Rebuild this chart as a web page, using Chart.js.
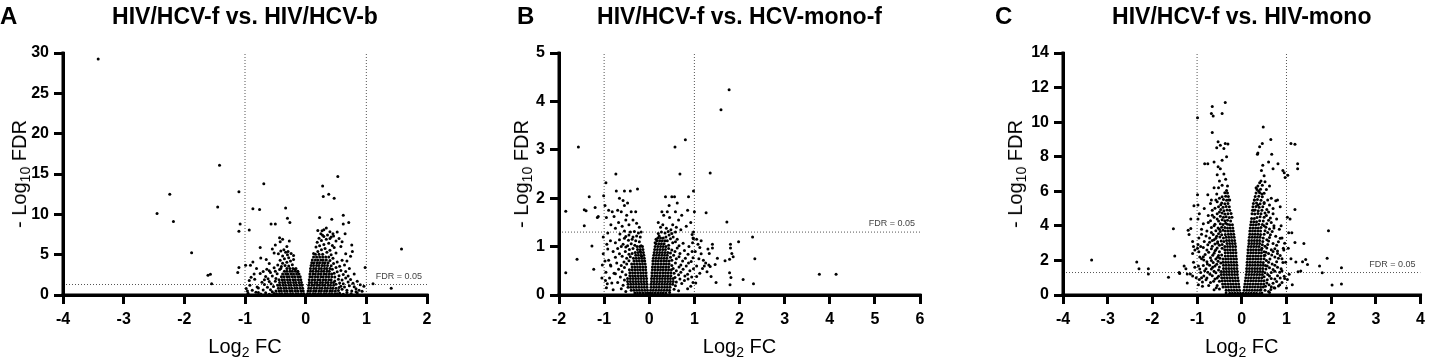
<!DOCTYPE html>
<html>
<head>
<meta charset="utf-8">
<title>Volcano plots</title>
<script src="https://cdn.jsdelivr.net/npm/chart.js@4.4.1/dist/chart.umd.min.js"></script>
<style>
  html, body { margin: 0; padding: 0; background: #fff; }
  body { width: 1431px; height: 360px; position: relative; overflow: hidden;
         font-family: "Liberation Sans", Arial, Helvetica, sans-serif; color: #000; }
  .panel { position: absolute; top: 0; width: 481px; height: 360px; }
  .panel canvas { position: absolute; left: 0; top: 0; }
  .txt { position: absolute; white-space: nowrap; }
  .letter { font-size: 24px; line-height: 24px; font-weight: bold; }
  .title { font-size: 23px; line-height: 23px; font-weight: bold; transform: translateX(-50%); }
  .axt { font-size: 20px; line-height: 20px; }
  .axt sub { font-size: 14px; line-height: 0; vertical-align: -4px; }
  .xt { transform: translateX(-50%); }
  .yt { transform: translate(-50%, -50%) rotate(-90deg); }
  .fdr { font-size: 9px; line-height: 9px; color: #444; }
</style>
</head>
<body>
<div class="panel" id="panelA" style="left:0"><canvas id="chartA" width="440" height="360"></canvas></div>
<div class="panel" id="panelB" style="left:480px"><canvas id="chartB" width="453" height="360"></canvas></div>
<div class="panel" id="panelC" style="left:950px"><canvas id="chartC" width="481" height="360"></canvas></div>
<script>
// ---- data (log2 FC on x, -log10 FDR on y) ----
const titles = ['HIV/HCV-f vs. HIV/HCV-b', 'HIV/HCV-f vs. HCV-mono-f', 'HIV/HCV-f vs. HIV-mono'];
const letters = ['A', 'B', 'C'];
const fcCutoffs = [-1, 1];
const fdrCutoff = 1.3;
const fdrLabel = 'FDR = 0.05';

// solid black core of each cloud, sampled row by row: [-log10 FDR, [log2 FC, ...]]
const coreA = [
  [0.15, [-0.48,-0.43,-0.39,-0.34,-0.3,-0.25,-0.21,-0.16,-0.12,-0.07,-0.03,0.03,0.07,0.12,0.16,0.21,0.25,0.3,0.34,0.39,0.43,0.48,0.52]],
  [0.5, [-0.49,-0.44,-0.4,-0.35,-0.31,-0.26,-0.22,-0.17,-0.13,-0.08,-0.04,0.04,0.08,0.13,0.17,0.22,0.26,0.31,0.35,0.4,0.44,0.49]],
  [0.85, [-0.45,-0.41,-0.36,-0.32,-0.27,-0.23,-0.18,-0.14,-0.09,-0.05,0.05,0.09,0.14,0.18,0.23,0.27,0.32,0.36,0.41,0.45,0.5]],
  [1.2, [-0.46,-0.42,-0.37,-0.33,-0.28,-0.24,-0.19,-0.15,-0.1,-0.06,0.05,0.1,0.14,0.19,0.23,0.28,0.32,0.37,0.41,0.46]],
  [1.55, [-0.43,-0.38,-0.34,-0.29,-0.25,-0.2,-0.16,-0.11,-0.07,0.06,0.1,0.15,0.19,0.24,0.28,0.33,0.37,0.42,0.46]],
  [1.9, [-0.44,-0.39,-0.35,-0.3,-0.26,-0.21,-0.17,-0.12,-0.08,0.06,0.11,0.15,0.2,0.24,0.29,0.33,0.38,0.42]],
  [2.25, [-0.4,-0.36,-0.31,-0.27,-0.22,-0.18,-0.13,-0.09,0.07,0.11,0.16,0.2,0.25,0.29,0.34,0.38,0.43]],
  [2.6, [-0.38,-0.33,-0.29,-0.24,-0.2,-0.15,-0.11,0.07,0.12,0.16,0.21,0.25,0.3,0.34,0.39,0.43]],
  [2.95, [-0.35,-0.31,-0.26,-0.22,-0.17,-0.13,0.08,0.12,0.17,0.21,0.26,0.3,0.35,0.39]],
  [3.3, [-0.31,-0.26,-0.21,-0.16,0.08,0.13,0.17,0.22,0.26,0.31,0.35,0.4]],
  [3.65, [0.09,0.13,0.18,0.22,0.27,0.31,0.36]],
  [4.0, [0.1,0.14,0.19,0.23,0.28,0.32,0.37]],
  [4.35, [0.11,0.16,0.2,0.25,0.29,0.34]],
  [4.7, [0.13,0.18,0.23,0.28,0.33]],
  [5.05, [0.16,0.22,0.28]]
];
// scattered points around the cores: [log2 FC, -log10 FDR]
const spreadA = [
  [-3.42,29.25],[-1.42,16.1],[-2.24,12.5],[-2.45,10.1],[-2.18,9.1],[-1.88,5.25],[-1.45,10.9],[-1.1,12.8],[-1.08,8.8],[-1.1,7.9],
  [-1.61,2.44],[-1.57,2.57],[-1.55,1.4],[-1.1,3.4],[-1.12,2.8],[-0.99,3.7],[-0.98,0.8],[-0.69,13.8],[-0.87,10.7],[-0.76,10.6],
  [-0.93,8.05],[-0.33,10.8],[-0.3,9.5],[-0.26,9.0],[-0.57,8.8],[-0.5,8.8],[-0.91,3.7],[-0.87,4.1],[-0.81,3.3],[-0.75,5.9],
  [-0.74,4.6],[-0.65,4.4],[-0.6,3.9],[-0.55,5.7],[-0.52,5.2],[-0.43,7.1],[-0.42,6.6],[-0.27,6.7],[-0.36,5.6],[-0.31,6.0],
  [-0.93,1.8],[-0.85,2.6],[-0.96,0.5],[-0.7,2.9],[-0.8,1.0],[-0.9,2.2],[-0.78,0.3],[-0.68,1.9],[-0.58,2.8],[-0.64,3.2],
  [-0.45,5.1],[-0.2,4.9],[-0.5,6.2],[-0.38,6.9],[-0.29,5.4],
  [-0.95,0.22],[-0.82,0.35],[-0.74,0.12],[-0.66,0.28],[-0.6,0.09],[-0.55,0.41],[-0.52,0.18],[-0.58,0.66],[-0.63,0.95],[-0.7,0.62],
  [-0.88,0.58],[-0.78,0.88],[-0.53,1.05],[-0.57,1.38],[-0.68,1.3],[-0.92,1.22],[-0.5,1.72],[-0.6,1.66],[-0.72,1.58],[-0.84,1.95],
  [-0.49,2.05],[-0.62,2.02],[-0.55,2.35],[-0.66,2.28],[-0.47,2.62],[-0.75,2.66],[-0.5,2.95],[-0.6,3.02],[-0.43,3.15],[-0.52,3.38],
  [-0.4,3.52],[-0.46,3.72],[-0.34,3.65],[-0.28,3.58],[-0.22,3.75],[-0.38,3.95],[-0.31,4.05],[-0.25,4.2],[-0.42,4.3],[-0.35,4.5],
  [-0.28,4.62],[-0.2,4.4],[-0.38,4.85],[-0.3,5.0],[-0.24,5.15],[-0.33,5.3],[-0.41,5.45],[-0.18,3.2],[-0.13,2.9],[-0.41,3.3],
  [0.53,14.7],[0.28,13.5],[0.29,12.2],[0.38,12.5],[0.47,12.0],[0.23,9.6],[0.43,9.4],[0.62,9.9],[0.71,9.0],[0.62,8.8],
  [0.76,6.2],[0.77,5.4],[0.74,4.8],[0.45,7.6],[0.42,7.2],[0.98,3.4],[1.11,1.4],[1.41,0.83],[1.58,5.7],[0.88,0.6],
  [0.93,0.45],[0.83,0.4],[0.58,6.0],[0.65,7.6],[0.52,7.8],[0.34,8.3],[0.68,4.2],[0.8,2.6],[0.72,3.3],[0.85,1.7],
  [0.66,5.1],[0.96,1.1],[0.3,8.1],[0.2,8.0],[0.55,7.0],[0.6,6.6],[0.28,7.4],
  [0.56,0.22],[0.62,0.1],[0.68,0.3],[0.75,0.15],[0.85,0.25],[0.54,0.55],[0.6,0.72],[0.68,0.6],[0.76,0.5],[0.83,0.78],
  [0.55,0.92],[0.58,1.1],[0.64,0.98],[0.72,1.15],[0.8,1.02],[0.9,1.28],[0.5,1.32],[0.56,1.5],[0.62,1.4],[0.7,1.62],
  [0.78,1.45],[0.48,1.75],[0.54,1.95],[0.6,1.85],[0.66,2.1],[0.74,1.92],[0.48,2.22],[0.55,2.4],[0.62,2.55],[0.7,2.35],
  [0.47,2.7],[0.52,2.88],[0.58,3.05],[0.66,2.9],[0.44,3.18],[0.5,3.4],[0.56,3.55],[0.64,3.72],[0.42,3.62],[0.46,3.92],
  [0.52,4.1],[0.6,4.3],[0.4,4.28],[0.45,4.55],[0.38,4.7],[0.42,5.0],[0.5,5.2],[0.35,5.3],[0.13,5.15],[0.2,5.4],
  [0.26,5.6],[0.32,5.75],[0.4,5.55],[0.47,5.9],[0.17,5.95],[0.23,6.1],[0.3,6.25],[0.38,6.4],[0.44,6.15],[0.19,6.55],
  [0.26,6.75],[0.34,6.9],[0.5,6.7],[0.22,7.05],[0.3,7.25],[0.4,7.0],[0.25,7.6],[0.36,7.45],[0.46,7.3],[0.27,7.95],[0.4,7.85]
];

const coreB = [
  [0.04, [-0.32,-0.26,-0.2,-0.14,-0.08,-0.03,0.02,0.07,0.13,0.19,0.25,0.31,0.37]],
  [0.1, [-0.4,-0.34,-0.28,-0.22,-0.16,-0.1,-0.04,0.03,0.09,0.15,0.21,0.27,0.33,0.39,0.45]],
  [0.16, [-0.47,-0.41,-0.35,-0.29,-0.23,-0.17,-0.11,-0.05,0.04,0.1,0.16,0.22,0.28,0.34,0.4,0.46]],
  [0.22, [-0.47,-0.41,-0.35,-0.29,-0.23,-0.17,-0.11,-0.05,0.04,0.1,0.16,0.22,0.28,0.34,0.4,0.46,0.52]],
  [0.28, [-0.48,-0.42,-0.36,-0.3,-0.24,-0.18,-0.12,-0.06,0.05,0.11,0.17,0.23,0.29,0.35,0.41,0.47,0.53]],
  [0.34, [-0.48,-0.42,-0.36,-0.3,-0.24,-0.18,-0.12,-0.06,0.05,0.11,0.17,0.23,0.29,0.35,0.41,0.47,0.53]],
  [0.4, [-0.43,-0.37,-0.31,-0.25,-0.19,-0.13,-0.07,0.06,0.12,0.18,0.24,0.3,0.36,0.42,0.48]],
  [0.46, [-0.43,-0.37,-0.31,-0.25,-0.19,-0.13,-0.07,0.06,0.12,0.18,0.24,0.3,0.36,0.42,0.48]],
  [0.52, [-0.44,-0.38,-0.32,-0.26,-0.2,-0.14,-0.08,0.07,0.13,0.19,0.25,0.31,0.37,0.43,0.49]],
  [0.58, [-0.38,-0.32,-0.26,-0.2,-0.14,-0.08,0.07,0.13,0.19,0.25,0.31,0.37,0.43]],
  [0.64, [-0.39,-0.33,-0.27,-0.21,-0.15,-0.09,0.08,0.14,0.2,0.26,0.32,0.38,0.44]],
  [0.7, [-0.34,-0.28,-0.22,-0.16,-0.1,0.08,0.14,0.2,0.26,0.32,0.38,0.44]],
  [0.76, [-0.35,-0.29,-0.23,-0.17,-0.11,0.09,0.15,0.21,0.27,0.33,0.39]],
  [0.82, [-0.3,-0.24,-0.18,-0.12,0.1,0.16,0.22,0.28,0.34,0.4]],
  [0.88, [-0.31,-0.25,-0.19,-0.13,0.11,0.17,0.23,0.29,0.35,0.41]],
  [0.94, [-0.26,-0.2,-0.14,0.12,0.18,0.24,0.3,0.36]],
  [1.0, [-0.27,-0.21,-0.15,0.13,0.19,0.25,0.31,0.37]],
  [1.06, [0.15,0.21,0.27,0.33]],
  [1.12, [0.17,0.23,0.29,0.35]],
  [1.18, [0.19,0.25,0.31]]
];
const spreadB = [
  [-0.96,2.32],[-0.74,2.5],[-0.73,2.15],[-0.55,2.15],[-0.42,2.15],[-0.26,2.19],[-1.01,2.05],[-0.98,1.85],[-0.9,1.75],[-0.82,1.72],
  [-0.78,1.62],[-0.7,1.75],[-0.68,1.5],[-0.62,1.72],[-0.58,1.95],[-0.55,1.85],[-0.5,1.65],[-0.45,1.45],[-0.4,1.72],[-0.36,1.55],
  [-0.3,1.72],[-0.28,1.48],[-0.22,1.4],[-0.6,1.42],[-0.85,1.45],[-0.92,1.28],[-0.75,1.38],[-0.52,1.55],[-0.18,1.3],[-0.95,1.6],
  [-0.66,2.0],[-0.48,1.9],
  [-1.57,3.06],[-1.85,1.73],[-1.33,2.03],[-1.44,1.76],[-1.4,1.74],[-1.44,1.43],[-1.2,1.81],[-1.15,1.6],[-1.13,1.62],[-1.27,1.01],
  [-1.23,0.53],[-1.6,0.74],[-1.85,0.46],[-1.02,0.85],[-1.04,0.62],[-1.05,0.35],[-1.02,1.2],
  [-0.98,0.7],[-0.97,0.3],[-0.92,0.95],[-0.86,1.12],[-0.95,0.15],[-0.83,0.25],[-0.86,0.62],[-0.94,1.05],[-0.8,0.9],[-0.78,0.45],
  [-0.52,0.07],[-0.62,0.13],[-0.8,0.11],[-0.58,0.2],[-0.7,0.26],[-0.93,0.23],[-0.55,0.31],[-0.64,0.37],[-0.88,0.35],[-0.52,0.42],
  [-0.6,0.48],[-0.75,0.44],[-0.96,0.47],[-0.68,0.53],[-0.55,0.57],[-0.5,0.64],[-0.62,0.61],[-0.85,0.6],[-0.45,0.71],[-0.56,0.68],
  [-0.72,0.66],[-0.9,0.72],[-0.42,0.79],[-0.5,0.76],[-0.6,0.8],[-0.75,0.78],[-0.38,0.86],[-0.45,0.84],[-0.53,0.9],[-0.66,0.85],
  [-0.36,0.96],[-0.44,0.94],[-0.52,0.99],[-0.7,0.96],[-0.32,1.03],[-0.4,1.06],[-0.48,1.02],[-0.58,1.05],[-0.62,1.0],[-0.75,1.08],
  [-0.22,1.1],[-0.3,1.12],[-0.38,1.15],[-0.46,1.13],[-0.55,1.17],[-0.66,1.14],[-0.2,1.2],[-0.28,1.22],[-0.36,1.2],[-0.45,1.24],
  [-0.52,1.21],[-0.65,1.26],[-0.24,1.28],[-0.33,1.31],[-0.42,1.3],[-0.55,1.32],[-0.18,1.02],[-0.2,0.9],[-0.17,0.8],[-0.15,0.7],
  [0.57,3.06],[0.8,3.21],[0.68,2.5],[0.36,2.03],[0.5,2.03],[0.56,2.03],[0.87,2.03],[0.98,2.15],[1.0,1.72],[0.28,1.72],
  [0.32,1.65],[0.4,1.72],[0.45,1.6],[0.52,1.45],[0.58,1.72],[0.65,1.55],[0.72,1.65],[0.3,1.45],[0.25,1.4],[0.38,1.38],
  [0.48,1.35],[0.6,1.4],[0.85,1.75],[0.92,1.5],[0.95,1.25],[0.98,1.3],[0.97,1.18],[0.2,1.5],[0.7,1.35],[0.82,1.42],
  [0.44,1.85],[0.62,1.9],
  [1.26,1.7],[1.35,2.52],[1.59,3.83],[1.77,4.24],[1.72,1.51],[2.29,1.2],[1.98,1.1],[2.34,0.75],[1.8,1.05],[1.8,0.97],
  [1.83,0.86],[1.86,0.79],[1.78,0.74],[1.68,0.71],[1.51,0.76],[1.4,1.05],[1.4,0.97],[1.3,0.95],[1.33,0.86],[3.77,0.43],
  [4.14,0.43],[1.78,0.46],[1.81,0.36],[1.79,0.21],[2.08,0.32],[2.31,0.23],[1.48,0.26],[1.37,0.38],[1.46,0.63],[1.35,0.59],
  [1.2,0.72],[1.25,0.66],[1.32,0.62],[1.05,1.15],[1.08,1.05],[1.12,0.98],[1.15,0.85],[1.1,0.75],[1.05,0.6],[1.18,0.55],
  [1.22,0.6],[1.28,0.48],[1.12,0.45],[1.05,0.38],[1.02,0.9],[1.15,1.12],[1.03,0.25],
  [0.45,0.05],[0.55,0.12],[0.65,0.09],[0.85,0.13],[0.58,0.19],[0.72,0.24],[0.92,0.18],[0.6,0.27],[0.68,0.33],[0.78,0.3],
  [0.97,0.26],[0.57,0.36],[0.65,0.42],[0.79,0.39],[0.86,0.33],[0.94,0.37],[0.55,0.45],[0.6,0.5],[0.7,0.47],[0.85,0.43],
  [0.53,0.55],[0.66,0.58],[0.75,0.53],[0.9,0.5],[0.98,0.54],[0.5,0.61],[0.58,0.66],[0.7,0.62],[0.82,0.6],[0.87,0.66],
  [0.5,0.72],[0.6,0.75],[0.74,0.7],[0.93,0.69],[0.47,0.78],[0.54,0.82],[0.66,0.79],[0.8,0.76],[0.97,0.77],[0.47,0.87],
  [0.57,0.9],[0.68,0.86],[0.86,0.84],[0.43,0.96],[0.5,0.93],[0.62,0.97],[0.78,0.92],[0.95,0.9],[0.43,1.03],[0.52,1.08],
  [0.66,1.02],[0.88,1.0],[0.4,1.12],[0.47,1.16],[0.58,1.1],[0.75,1.07],[0.96,1.08],[0.37,1.2],[0.44,1.24],[0.53,1.2],
  [0.62,1.15],[0.98,1.16],[0.2,1.27],[0.27,1.3],[0.35,1.28],[0.42,1.31],[0.5,1.27],[0.58,1.3],[0.22,1.22],[0.15,1.15],[0.13,1.08]
];

const coreC = [
  [0.1, [-0.27,-0.21,-0.15,-0.09,-0.03,0.03,0.09,0.15,0.21,0.27,0.33]],
  [0.28, [-0.35,-0.29,-0.23,-0.17,-0.11,-0.05,0.05,0.11,0.17,0.23,0.29,0.35,0.41]],
  [0.46, [-0.42,-0.36,-0.3,-0.24,-0.18,-0.12,-0.06,0.06,0.12,0.18,0.24,0.3,0.36,0.42,0.48]],
  [0.64, [-0.43,-0.37,-0.31,-0.25,-0.19,-0.13,-0.07,0.07,0.13,0.19,0.25,0.31,0.37,0.43,0.49]],
  [0.82, [-0.44,-0.38,-0.32,-0.26,-0.2,-0.14,-0.08,0.08,0.14,0.2,0.26,0.32,0.38,0.44,0.5]],
  [1.0, [-0.45,-0.39,-0.33,-0.27,-0.21,-0.15,-0.09,0.09,0.15,0.21,0.27,0.33,0.39,0.45]],
  [1.18, [-0.46,-0.4,-0.34,-0.28,-0.22,-0.16,-0.1,0.1,0.16,0.22,0.28,0.34,0.4,0.46]],
  [1.36, [-0.46,-0.4,-0.34,-0.28,-0.22,-0.16,-0.1,0.11,0.17,0.23,0.29,0.35,0.41,0.47]],
  [1.54, [-0.41,-0.35,-0.29,-0.23,-0.17,-0.11,0.11,0.17,0.23,0.29,0.35,0.41,0.47]],
  [1.72, [-0.41,-0.35,-0.29,-0.23,-0.17,-0.11,0.12,0.18,0.24,0.3,0.36,0.42,0.48]],
  [1.9, [-0.42,-0.36,-0.3,-0.24,-0.18,-0.12,0.12,0.18,0.24,0.3,0.36,0.42]],
  [2.08, [-0.42,-0.36,-0.3,-0.24,-0.18,-0.12,0.13,0.19,0.25,0.31,0.37,0.43]],
  [2.26, [-0.37,-0.31,-0.25,-0.19,-0.13,0.13,0.19,0.25,0.31,0.37,0.43]],
  [2.44, [-0.37,-0.31,-0.25,-0.19,-0.13,0.14,0.2,0.26,0.32,0.38,0.44]],
  [2.62, [-0.38,-0.32,-0.26,-0.2,-0.14,0.14,0.2,0.26,0.32,0.38,0.44]],
  [2.8, [-0.38,-0.32,-0.26,-0.2,-0.14,0.15,0.21,0.27,0.33,0.39]],
  [2.98, [-0.33,-0.27,-0.21,-0.15,0.16,0.22,0.28,0.34,0.4]],
  [3.16, [-0.34,-0.28,-0.22,-0.16,0.16,0.22,0.28,0.34,0.4]],
  [3.34, [-0.35,-0.29,-0.23,-0.17,0.17,0.23,0.29,0.35,0.41]],
  [3.52, [-0.3,-0.24,-0.18,0.18,0.24,0.3,0.36]],
  [3.7, [-0.31,-0.25,-0.19,0.18,0.24,0.3,0.36]],
  [3.88, [-0.32,-0.26,-0.2,0.19,0.25,0.31,0.37]],
  [4.06, [-0.27,-0.21,0.2,0.26,0.32]],
  [4.24, [0.21,0.27,0.33]],
  [4.42, [0.22,0.28]]
];
const spreadC = [
  [-0.37,11.13],[-0.66,10.9],[-0.64,10.35],[-0.68,10.5],[-0.44,10.5],[-0.66,9.4],[-0.99,10.25],[-0.53,8.86],[-0.48,8.67],[-0.56,8.52],
  [-0.4,8.48],[-0.37,8.77],[-0.31,8.73],[-0.44,7.8],[-0.53,7.42],[-0.83,7.6],[-0.76,7.6],[-0.62,7.7],[-0.34,8.0],[-0.48,7.3],
  [-0.4,7.0],[-0.55,6.95],[-0.36,6.7],[-0.5,6.6],[-0.44,6.35],[-0.62,6.2],[-0.52,6.2],[-0.32,6.3],[-0.76,5.8],[-0.56,5.85],
  [-0.34,6.05],[-0.68,5.5],[-0.5,5.6],[-0.3,5.5],[-0.98,5.2],[-0.99,5.8],[-0.95,4.7],[-0.98,4.4],[-0.84,5.0],[-0.75,4.6],
  [-0.9,3.8],[-0.96,3.3],[-0.99,2.7],[-0.94,2.2],[-1.05,2.6],[-1.08,2.8],[-1.1,3.1],[-1.05,1.6],[-1.02,1.0],[-0.97,0.6],
  [-3.36,2.02],[-2.35,1.91],[-2.3,1.52],[-2.09,1.52],[-2.09,1.21],[-1.64,1.02],[-1.39,1.25],[-1.53,3.83],[-1.5,2.25],[-1.29,1.68],
  [-1.25,1.52],[-1.22,1.21],[-1.15,1.21],[-1.22,0.7],[-1.2,3.75],[-1.14,3.85],[-1.18,3.5],[-1.1,2.4],[-1.14,4.4],[-1.07,5.17],
  [-1.08,1.9],[-1.4,1.3],[-1.1,1.1],
  [-0.35,0.12],[-0.5,0.35],[-0.62,0.3],[-0.88,0.5],[-0.55,0.55],[-0.7,0.72],[-0.5,0.8],[-0.6,0.92],[-0.8,0.88],[-0.95,0.9],
  [-0.52,1.08],[-0.66,1.12],[-0.85,1.1],[-0.58,1.28],[-0.76,1.32],[-0.92,1.3],[-0.52,1.45],[-0.68,1.5],[-0.8,1.52],[-0.6,1.68],
  [-0.72,1.72],[-0.86,1.7],[-0.97,1.68],[-0.47,1.85],[-0.53,1.95],[-0.64,1.88],[-0.78,1.92],[-0.49,2.12],[-0.58,2.08],[-0.7,2.15],
  [-0.9,2.1],[-0.45,2.32],[-0.52,2.28],[-0.65,2.3],[-0.82,2.35],[-0.5,2.5],[-0.6,2.55],[-0.74,2.48],[-0.96,2.5],[-0.44,2.7],
  [-0.55,2.72],[-0.68,2.68],[-0.86,2.75],[-0.44,2.92],[-0.5,2.88],[-0.6,2.95],[-0.76,2.9],[-0.98,2.92],[-0.4,3.1],[-0.46,3.12],
  [-0.54,3.08],[-0.66,3.15],[-0.84,3.1],[-0.41,3.3],[-0.49,3.35],[-0.58,3.28],[-0.72,3.3],[-0.37,3.5],[-0.45,3.48],[-0.52,3.55],
  [-0.64,3.5],[-0.9,3.52],[-0.37,3.7],[-0.42,3.75],[-0.48,3.68],[-0.58,3.72],[-0.78,3.7],[-0.38,3.9],[-0.45,3.92],[-0.53,3.88],
  [-0.68,3.9],[-0.32,4.1],[-0.36,4.15],[-0.42,4.08],[-0.48,4.12],[-0.6,4.1],[-0.86,4.12],[-0.25,4.28],[-0.32,4.32],[-0.38,4.3],
  [-0.44,4.35],[-0.52,4.28],[-0.7,4.3],[-0.22,4.5],[-0.28,4.48],[-0.35,4.52],[-0.41,4.5],[-0.48,4.55],[-0.62,4.5],[-0.24,4.72],
  [-0.31,4.7],[-0.38,4.68],[-0.44,4.74],[-0.55,4.7],[-0.27,4.9],[-0.33,4.92],[-0.4,4.88],[-0.47,4.95],[-0.66,4.9],[-0.28,5.1],
  [-0.35,5.12],[-0.42,5.08],[-0.52,5.1],[-0.31,5.3],[-0.38,5.28],[-0.45,5.32],[-0.27,5.5],[-0.34,5.48],[-0.41,5.52],[-0.58,5.5],
  [-0.3,5.7],[-0.36,5.72],[-0.44,5.68],[-0.32,5.9],[-0.38,5.92],
  [-0.57,0.42],[-0.74,0.55],[-0.63,0.8],[-0.9,1.0],[-0.55,0.98],[-0.71,1.2],[-0.62,1.38],[-0.83,1.4],[-0.5,1.62],[-0.65,1.6],
  [-0.77,1.8],[-0.56,1.78],[-0.68,2.0],[-0.85,2.02],[-0.54,2.18],[-0.62,2.42],[-0.78,2.6],[-0.58,2.62],[-0.92,2.8],[-0.66,2.82],
  [-0.54,3.0],[-0.72,3.05],[-0.62,3.2],[-0.8,3.42],[-0.56,3.4],[-0.68,3.62],[-0.5,3.8],[-0.62,4.0],[-0.75,4.2],[-0.55,4.4],
  [-0.66,4.62],[-0.5,4.8],[-0.6,5.02],[-0.47,5.22],[-0.7,5.3],[-0.55,5.4],[-0.86,2.22],[-0.94,1.5],[-0.88,0.75],[-0.78,0.98],
  [1.1,8.76],[1.19,8.72],[1.25,7.6],[1.25,7.3],[0.95,7.07],[1.03,6.93],[1.19,4.95],[1.19,3.04],[1.39,2.98],[1.94,3.72],
  [1.91,2.12],[1.74,1.68],[1.8,1.29],[2.23,1.58],[2.02,0.58],[2.23,0.64],[1.36,1.93],[1.43,2.06],[1.47,1.77],[1.26,1.35],
  [1.32,1.39],[1.21,1.91],[1.05,3.6],[1.12,3.6],[1.02,4.5],[1.08,4.4],[1.04,2.7],[1.1,2.1],[1.06,1.2],[1.02,0.9],
  [1.13,0.6],[1.0,0.4],
  [0.48,9.72],[0.65,9.0],[0.46,8.76],[0.4,8.57],[0.36,8.22],[0.35,8.14],[0.67,8.14],[0.81,7.6],[0.7,7.3],[0.6,7.7],
  [0.47,7.5],[0.44,7.2],[0.5,6.9],[0.43,6.6],[0.92,7.2],[0.97,6.8],[0.32,6.2],[0.38,6.0],[0.45,5.85],[0.55,6.1],
  [0.62,6.3],[0.28,5.5],[0.36,5.2],[0.5,5.35],[0.66,5.6],[0.76,5.45],[0.8,5.5],[0.27,4.9],[0.6,4.8],[0.7,5.0],
  [0.86,5.1],[0.78,4.4],[0.72,4.0],[0.84,3.8],[0.9,3.3],[0.8,2.4],[0.94,2.6],[0.98,1.9],[0.9,1.4],[0.96,0.95],
  [0.85,0.6],[0.74,0.4],[0.62,0.15],
  [0.4,0.08],[0.45,0.12],[0.43,0.3],[0.52,0.28],[0.65,0.32],[0.53,0.5],[0.66,0.48],[0.82,0.52],[0.56,0.7],[0.7,0.68],
  [0.9,0.72],[0.57,0.88],[0.74,0.92],[0.5,1.05],[0.62,1.1],[0.8,1.12],[0.95,1.08],[0.52,1.28],[0.66,1.3],[0.85,1.32],
  [0.54,1.5],[0.7,1.48],[0.88,1.52],[0.53,1.7],[0.57,1.68],[0.74,1.72],[0.48,1.88],[0.6,1.9],[0.78,1.92],[0.92,1.88],
  [0.5,2.1],[0.63,2.08],[0.82,2.12],[0.5,2.28],[0.52,2.3],[0.67,2.32],[0.86,2.28],[0.5,2.5],[0.54,2.48],[0.7,2.52],
  [0.45,2.7],[0.56,2.72],[0.74,2.68],[0.93,2.7],[0.46,2.9],[0.58,2.92],[0.78,2.88],[0.47,3.1],[0.6,3.12],[0.82,3.08],
  [0.48,3.3],[0.62,3.32],[0.86,3.28],[0.42,3.5],[0.5,3.52],[0.64,3.48],[0.42,3.7],[0.52,3.72],[0.68,3.68],[0.43,3.9],
  [0.54,3.92],[0.72,3.88],[0.38,4.1],[0.46,4.08],[0.56,4.12],[0.4,4.3],[0.48,4.28],[0.6,4.32],[0.34,4.48],[0.41,4.52],
  [0.5,4.5],[0.64,4.46],[0.23,4.7],[0.29,4.68],[0.36,4.72],[0.43,4.7],[0.52,4.74],[0.24,4.9],[0.3,4.92],[0.37,4.88],
  [0.45,4.9],[0.56,4.95],[0.25,5.1],[0.32,5.12],[0.39,5.08],[0.47,5.1],[0.26,5.3],[0.33,5.32],[0.41,5.28],[0.5,5.3],
  [0.28,5.5],[0.35,5.52],[0.43,5.48],[0.58,5.5],[0.3,5.7],[0.38,5.72],[0.46,5.68],[0.32,5.9],[0.4,5.92],[0.5,5.88],
  [0.34,6.1],[0.42,6.12],[0.36,6.3],[0.46,6.35],[0.4,6.5],[0.52,6.55],
  [0.6,0.2],[0.72,0.42],[0.61,0.6],[0.78,0.78],[0.66,0.95],[0.86,0.98],[0.58,1.18],[0.74,1.38],[0.62,1.58],[0.8,1.6],
  [0.68,1.8],[0.55,2.0],[0.74,2.2],[0.6,2.4],[0.8,2.55],[0.66,2.62],[0.52,2.82],[0.7,2.98],[0.56,3.2],[0.76,3.4],
  [0.58,3.62],[0.62,3.82],[0.5,4.0],[0.66,4.2],[0.55,4.6],[0.62,5.2],[0.9,2.1],[0.96,3.0],[0.88,4.0],[0.7,4.7]
];

// ---- drawing ----
const FONT = '"Liberation Sans", Arial, Helvetica, sans-serif';
Chart.defaults.font.family = FONT;

function toPoints(rows, spread) {
  const pts = [];
  rows.forEach(([y, xs]) => xs.forEach(x => pts.push({ x: x, y: y })));
  spread.forEach(([x, y]) => pts.push({ x: x, y: y }));
  return pts;
}

// dotted cut-off line as a two-point line dataset
function cutLine(points) {
  return {
    data: points, showLine: true, pointRadius: 0, borderColor: '#555', borderWidth: 1,
    borderDash: [1, 2], fill: false, order: 3
  };
}

// the x and y axis lines as plain line datasets along the scale edges, drawn over the points
function axisLine(points) {
  return {
    data: points, showLine: true, pointRadius: 0, borderColor: '#000', borderWidth: 3,
    borderCapStyle: 'square', fill: false, order: 0, clip: false
  };
}

function addText(panelId, cls, html, left, top, extraStyle) {
  const d = document.createElement('div');
  d.className = 'txt ' + cls;
  d.innerHTML = html;
  d.style.left = left + 'px';
  d.style.top = top + 'px';
  if (extraStyle) Object.assign(d.style, extraStyle);
  document.getElementById(panelId).appendChild(d);
}

const panels = [
  { id: 'chartA', panel: 'panelA', letter: letters[0], title: titles[0], core: coreA, spread: spreadA,
    xMin: -4, xMax: 2, yMax: 30, yStep: 5, yAxisWidth: 63, padRight: 13, letterX: 0, yTitleX: 19 },
  { id: 'chartB', panel: 'panelB', letter: letters[1], title: titles[1], core: coreB, spread: spreadB,
    xMin: -2, xMax: 6, yMax: 5, yStep: 1, yAxisWidth: 79, padRight: 13, letterX: 37, yTitleX: 41 },
  { id: 'chartC', panel: 'panelC', letter: letters[2], title: titles[2], core: coreC, spread: spreadC,
    xMin: -4, xMax: 4, yMax: 14, yStep: 2, yAxisWidth: 113, padRight: 5, letterX: 45, yTitleX: 65 }
];

panels.forEach(p => {
  const tickFont = { size: 16, weight: 'bold', family: FONT };
  const chart = new Chart(document.getElementById(p.id), {
    type: 'scatter',
    data: {
      datasets: [
        { data: toPoints(p.core, p.spread), pointRadius: 1.5, pointBorderWidth: 0,
          pointBackgroundColor: '#000', order: 2 },
        cutLine([{ x: fcCutoffs[0], y: 0 }, { x: fcCutoffs[0], y: p.yMax }]),
        cutLine([{ x: fcCutoffs[1], y: 0 }, { x: fcCutoffs[1], y: p.yMax }]),
        cutLine([{ x: p.xMin, y: fdrCutoff }, { x: p.xMax, y: fdrCutoff }]),
        axisLine([{ x: p.xMin, y: 0 }, { x: p.xMax, y: 0 }]),
        axisLine([{ x: p.xMin, y: 0 }, { x: p.xMin, y: p.yMax }])
      ]
    },
    options: {
      responsive: false,
      animation: false,
      events: [],
      layout: { padding: { top: 53, right: p.padRight, left: 0, bottom: 0 } },
      plugins: { legend: { display: false }, tooltip: { enabled: false } },
      scales: {
        x: {
          type: 'linear', min: p.xMin, max: p.xMax,
          ticks: { stepSize: 1, font: tickFont, color: '#000', padding: 6, maxRotation: 0 },
          grid: { drawOnChartArea: false, tickLength: 9, lineWidth: 3, color: '#000' },
          border: { display: true, color: '#000', width: 3 },
          afterFit: s => { s.height = 65; }
        },
        y: {
          type: 'linear', min: 0, max: p.yMax,
          ticks: { stepSize: p.yStep, font: tickFont, color: '#000', padding: 5 },
          grid: { drawOnChartArea: false, tickLength: 9, lineWidth: 3, color: '#000' },
          border: { display: true, color: '#000', width: 3 },
          afterFit: s => { s.width = p.yAxisWidth; }
        }
      }
    }
  });

  const a = chart.chartArea;
  const cx = (a.left + a.right) / 2;
  const cy = (a.top + a.bottom) / 2;
  const fdrY = chart.scales.y.getPixelForValue(fdrCutoff);
  addText(p.panel, 'letter', p.letter, p.letterX, 4);
  addText(p.panel, 'title', p.title, cx, 5);
  addText(p.panel, 'axt xt', 'Log<sub>2</sub> FC', cx, 336);
  addText(p.panel, 'axt yt', '- Log<sub>10</sub> FDR', p.yTitleX, cy);
  addText(p.panel, 'fdr', fdrLabel, a.right - 5, fdrY - 13, { transform: 'translateX(-100%)' });
});
</script>
</body>
</html>
